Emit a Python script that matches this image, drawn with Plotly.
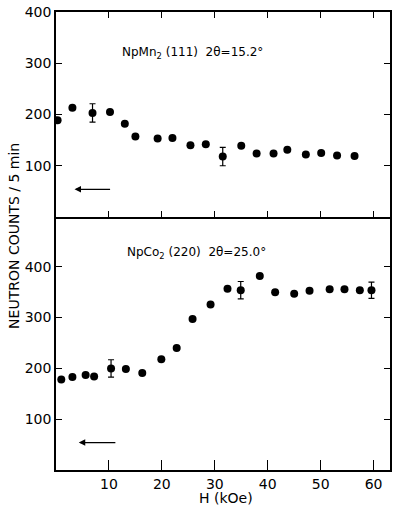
import plotly.graph_objects as go

# Top panel: NpMn2 (111)
mn_h = [0.3, 3.1, 6.9, 10.2, 13.0, 15.0, 19.2, 22.0, 25.4, 28.3, 31.5, 35.0, 37.9, 41.1, 43.7, 47.2, 50.1, 53.1, 56.4]
mn_counts = [189, 213, 203, 205, 182, 157, 153, 154, 140, 142, 118, 139, 124, 124, 131, 122, 125, 120, 119]
mn_err = [0, 0, 18, 0, 0, 0, 0, 0, 0, 0, 18, 0, 0, 0, 0, 0, 0, 0, 0]

# Bottom panel: NpCo2 (220)
co_h = [1.0, 3.1, 5.6, 7.2, 10.4, 13.2, 16.3, 19.9, 22.8, 25.8, 29.2, 32.4, 34.9, 38.5, 41.4, 45.0, 47.9, 51.7, 54.5, 57.4, 59.6]
co_counts = [178, 183, 187, 184, 200, 199, 191, 218, 240, 297, 326, 357, 354, 382, 350, 347, 353, 356, 356, 354, 354]
co_err = [0, 0, 0, 0, 17, 0, 0, 0, 0, 0, 0, 0, 17, 0, 0, 0, 0, 0, 0, 0, 16]

x_ticks = [10, 20, 30, 40, 50, 60]
y_ticks = [100, 200, 300, 400]

FONT = "DejaVu Sans"

fig = go.Figure()
fig.add_trace(go.Scatter(
    x=mn_h, y=mn_counts, mode="markers",
    marker=dict(color="black", size=8),
    error_y=dict(type="data", array=mn_err, color="black", thickness=1.2, width=3),
    xaxis="x", yaxis="y", showlegend=False))
fig.add_trace(go.Scatter(
    x=co_h, y=co_counts, mode="markers",
    marker=dict(color="black", size=8),
    error_y=dict(type="data", array=co_err, color="black", thickness=1.2, width=3),
    xaxis="x2", yaxis="y2", showlegend=False))

ax_common = dict(showline=True, linecolor="black", linewidth=1.5, ticks="inside",
                 tickcolor="black", tickwidth=1.2, showgrid=False, zeroline=False,
                 automargin=False, ticklabeloverflow="allow",
                 tickfont=dict(family=FONT, size=14, color="black"))

split = 0.5524
fig.update_layout(
    width=394, height=506,
    margin=dict(l=56, r=4, t=12, b=36),
    plot_bgcolor="white", paper_bgcolor="white",
    xaxis=dict(range=[0, 63.1], domain=[0, 1], anchor="y", tickvals=x_ticks,
               showticklabels=False, mirror="ticks", ticklen=6, matches="x2", **ax_common),
    yaxis=dict(range=[0, 400], domain=[split, 1], anchor="x", tickvals=y_ticks,
               mirror="ticks", ticklen=6, **ax_common),
    xaxis2=dict(range=[0, 63.1], domain=[0, 1], anchor="y2", tickvals=x_ticks,
                mirror=False, ticklen=10, **ax_common),
    yaxis2=dict(range=[0, 498], domain=[0, split], anchor="x2", tickvals=y_ticks,
                mirror="ticks", ticklen=6, **ax_common),
)

fig.add_annotation(x=12.0, y=320, xref="x", yref="y", xanchor="left", showarrow=False,
                   text="NpMn<sub>2</sub> (111)  2θ=15.2°",
                   font=dict(family=FONT, size=12, color="black"))
fig.add_annotation(x=13.0, y=427, xref="x2", yref="y2", xanchor="left", showarrow=False,
                   text="NpCo<sub>2</sub> (220)  2θ=25.0°",
                   font=dict(family=FONT, size=12, color="black"))

fig.add_annotation(x=3.5, y=54, ax=10.5, ay=54, xref="x", yref="y", axref="x", ayref="y",
                   showarrow=True, arrowhead=2, arrowsize=1, arrowwidth=1.3,
                   arrowcolor="black", text="")
fig.add_annotation(x=4.3, y=54, ax=11.5, ay=54, xref="x2", yref="y2", axref="x2", ayref="y2",
                   showarrow=True, arrowhead=2, arrowsize=1, arrowwidth=1.3,
                   arrowcolor="black", text="")

fig.add_annotation(x=-0.126, y=0.511, xref="paper", yref="paper", showarrow=False,
                   xanchor="center", yanchor="middle",
                   textangle=-90, text="NEUTRON COUNTS / 5 min",
                   font=dict(family=FONT, size=14, color="black"))
fig.add_annotation(x=0.508, y=-0.061, xref="paper", yref="paper", showarrow=False,
                   xanchor="center", yanchor="middle",
                   text="H (kOe)", font=dict(family=FONT, size=14, color="black"))

# remove the default 8px page margin so the figure fills the window exactly
fig.write_html("out.html", config={"displayModeBar": False},
               post_script="document.body.style.margin='0';")
